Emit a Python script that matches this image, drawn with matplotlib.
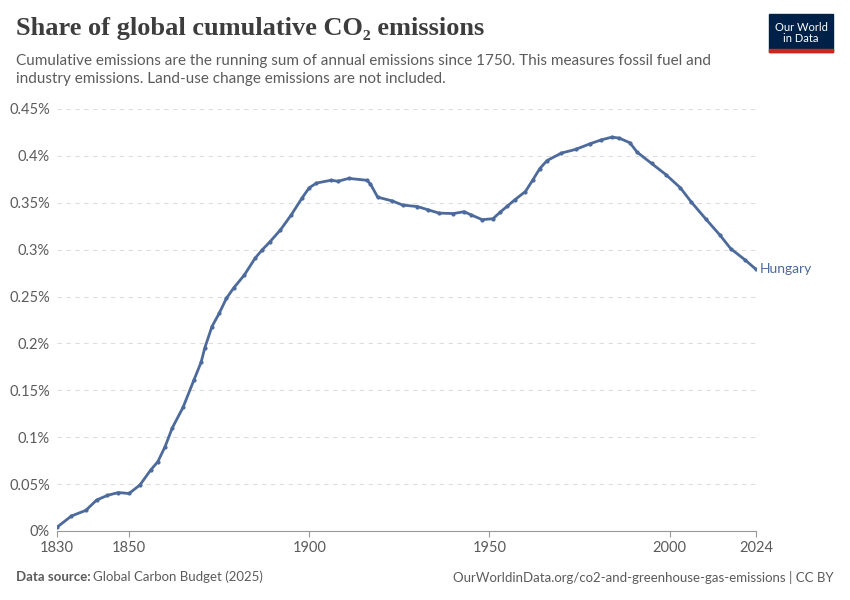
import matplotlib.pyplot as plt
from matplotlib.patches import Rectangle

years = [1830, 1834, 1838, 1841, 1844, 1847, 1850, 1853, 1856, 1858, 1860, 1862,
         1865, 1868, 1870, 1871, 1873, 1875, 1877, 1879, 1882, 1885, 1887, 1889,
         1892, 1895, 1898, 1900, 1902, 1906, 1908, 1911, 1916, 1917, 1919, 1923,
         1926, 1930, 1933, 1936, 1940, 1943, 1945, 1948, 1951, 1953, 1955, 1957,
         1960, 1962, 1964, 1966, 1970, 1974, 1978, 1981, 1984, 1986, 1989, 1991,
         1995, 1999, 2003, 2006, 2010, 2014, 2017, 2021, 2024]
share = [0.004, 0.016, 0.022, 0.033, 0.038, 0.041, 0.040, 0.049, 0.065, 0.074, 0.090, 0.110,
         0.132, 0.161, 0.180, 0.195, 0.218, 0.232, 0.248, 0.259, 0.273, 0.291, 0.300, 0.308,
         0.321, 0.337, 0.355, 0.366, 0.371, 0.374, 0.373, 0.376, 0.374, 0.370, 0.356, 0.352,
         0.3475, 0.346, 0.3425, 0.339, 0.3385, 0.3405, 0.337, 0.332, 0.333, 0.340, 0.3465, 0.353,
         0.362, 0.374, 0.3865, 0.395, 0.403, 0.407, 0.413, 0.417, 0.420, 0.419, 0.414, 0.404,
         0.392, 0.380, 0.366, 0.351, 0.333, 0.3155, 0.301, 0.289, 0.279]
xticks = [1830, 1850, 1900, 1950, 2000, 2024]
yticks = [0, 0.05, 0.1, 0.15, 0.2, 0.25, 0.3, 0.35, 0.4, 0.45]
ylabels = ['0%', '0.05%', '0.1%', '0.15%', '0.2%', '0.25%', '0.3%', '0.35%', '0.4%', '0.45%']

plt.rcParams['font.family'] = ['Lato', 'DejaVu Sans']
color = '#4c6a9c'
grey = '#5b5b5b'

fig = plt.figure(figsize=(8.5, 6), dpi=100)
ax = fig.add_axes([57/850, 1-531/600, (756-57)/850, (531-109)/600])
ax.plot(years, share, '-o', color=color, lw=2, ms=2)
ax.set_xlim(1830, 2024)
ax.set_ylim(0, 0.45)
ax.set_xticks(xticks)
ax.set_xticklabels(['1830', '1850', '1900', '1950', '2000', '2024'], color=grey, fontsize=10.5)
ax.set_yticks(yticks)
ax.set_yticklabels(ylabels, color=grey, fontsize=10.5)
ax.grid(axis='y', ls=(0, (4, 4)), color='#dddddd', lw=0.8)
for s in ['top', 'right', 'left']:
    ax.spines[s].set_visible(False)
ax.spines['bottom'].set_color('#999999')
ax.tick_params(axis='y', length=0, pad=5)
ax.tick_params(axis='x', length=4, color='#999999')
ax.text(2025, share[-1], 'Hungary', color=color, fontsize=10, va='center', ha='left')

fig.text(16/850, 1-28/600, 'Share of global cumulative CO₂ emissions',
         family=['Liberation Serif', 'DejaVu Serif'], fontweight='bold',
         fontsize=19, color='#3d3d3d', va='center')
fig.text(16/850, 1-70/600, 'Cumulative emissions are the running sum of annual emissions since 1750. This measures fossil fuel and\nindustry emissions. Land-use change emissions are not included.',
         fontsize=11, color=grey, va='center', linespacing=1.4)
fig.text(16/850, 1-577/600, 'Data source:', fontsize=9.5, color=grey, va='center', fontweight='bold')
fig.text(93/850, 1-577/600, 'Global Carbon Budget (2025)', fontsize=9.5, color=grey, va='center')
fig.text(834/850, 1-577/600, 'OurWorldinData.org/co2-and-greenhouse-gas-emissions | CC BY', fontsize=9.5,
         color=grey, va='center', ha='right')

fig.patches.append(Rectangle((769/850, 1-52/600), 64/850, 38/600, transform=fig.transFigure, color='#002147'))
fig.patches.append(Rectangle((769/850, 1-52/600), 64/850, 3/600, transform=fig.transFigure, color='#ce261e'))
fig.text(801/850, 1-33/600, 'Our World\nin Data', color='white', fontsize=8, ha='center', va='center', linespacing=1.1)

fig.savefig('out.png', dpi=100)
